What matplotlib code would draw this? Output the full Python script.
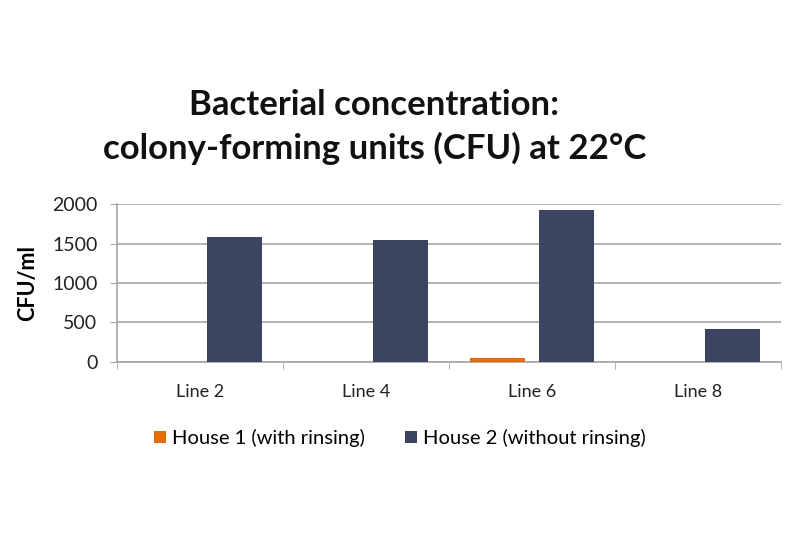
import numpy as np
import matplotlib
matplotlib.use("Agg")
import matplotlib.pyplot as plt

plt.rcParams['font.family'] = ['Lato', 'DejaVu Sans']

categories = ['Line 2', 'Line 4', 'Line 6', 'Line 8']
house1 = [0, 0, 50, 0]
house2 = [1580, 1550, 1930, 420]
series_names = ['House 1 (with rinsing)', 'House 2 (without rinsing)']
yticks = [0, 500, 1000, 1500, 2000]

orange = '#e46c0a'
navy = '#3b4562'
grey = '#a6a6a6'

fig = plt.figure(figsize=(8, 5.33), dpi=100)
ax = fig.add_axes([0.146, 0.321, 0.83, 0.296])

x = np.arange(len(categories))
w = 0.33
off = 0.208
ax.bar(x - off, house1, w, color=orange, label=series_names[0], zorder=3)
ax.bar(x + off, house2, w, color=navy, label=series_names[1], zorder=3)

ax.set_xlim(-0.5, len(categories) - 0.5)
ax.set_ylim(0, 2000)
ax.set_yticks(yticks)
ax.set_yticklabels([str(v) for v in yticks], fontsize=14, color='#222222')
ax.set_xticks(x)
ax.set_xticklabels(categories, fontsize=13, color='#222222')
ax.set_xticks(np.arange(-0.5, len(categories)), minor=True)
ax.tick_params(axis='x', which='major', length=0, pad=16)
ax.tick_params(axis='x', which='minor', length=5, color=grey, direction='out')
ax.tick_params(axis='y', length=5, color=grey, pad=9)

ax.grid(axis='y', color=grey, linewidth=1.2, zorder=0)
for s in ['top', 'right']:
    ax.spines[s].set_visible(False)
for s in ['left', 'bottom']:
    ax.spines[s].set_color(grey)
    ax.spines[s].set_linewidth(1.2)

ax.set_ylabel('CFU/ml', fontsize=15.5, fontweight='bold', labelpad=10)

fig.text(0.468, 0.762, 'Bacterial concentration:\ncolony-forming units (CFU) at 22°C',
         ha='center', va='center', fontsize=25, fontweight='bold',
         linespacing=1.4, color='#111111')

fig.legend(loc='center', bbox_to_anchor=(0.5, 0.178), ncol=2, frameon=False,
           fontsize=14.5, handlelength=0.6, handleheight=0.6, handletextpad=0.3,
           columnspacing=2.0)

fig.savefig('out.png', dpi=100)
